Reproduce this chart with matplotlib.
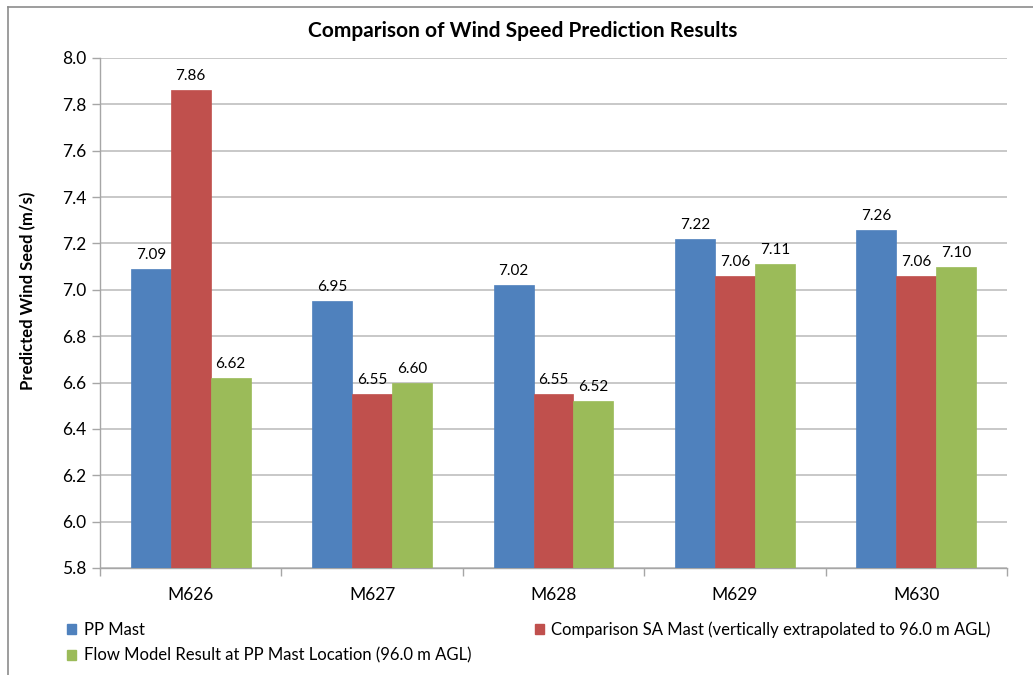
import matplotlib
matplotlib.use("Agg")
import matplotlib.pyplot as plt
import numpy as np
from matplotlib.patches import Patch
from matplotlib.lines import Line2D

plt.rcParams['font.family'] = ['Lato', 'DejaVu Sans']

categories = ["M626", "M627", "M628", "M629", "M630"]
pp_mast = [7.09, 6.95, 7.02, 7.22, 7.26]
sa_mast = [7.86, 6.55, 6.55, 7.06, 7.06]
flow_model = [6.62, 6.60, 6.52, 7.11, 7.10]
series_names = ["PP Mast",
                "Comparison SA Mast (vertically extrapolated to 96.0 m AGL)",
                "Flow Model Result at PP Mast Location (96.0 m AGL)"]
colors = ["#4F81BD", "#C0504D", "#9BBB59"]
yticks = [5.8, 6.0, 6.2, 6.4, 6.6, 6.8, 7.0, 7.2, 7.4, 7.6, 7.8, 8.0]

W, H = 1033, 675
fig = plt.figure(figsize=(W/100, H/100), dpi=100)
ax = fig.add_axes([100/W, 1-568/H, (1007-100)/W, (568-58)/H])

x = np.arange(len(categories))
bw = 0.22
base = 5.8
for i, (vals, c) in enumerate(zip([pp_mast, sa_mast, flow_model], colors)):
    pos = x + (i-1)*bw
    ax.bar(pos, np.array(vals)-base, bottom=base, width=bw, color=c,
           edgecolor=c, linewidth=0.5, zorder=3, label=series_names[i])
    for p, v in zip(pos, vals):
        ax.text(p, v+0.03, f"{v:.2f}", ha='center', va='bottom', fontsize=11, color='black')

ax.set_xlim(-0.5, len(categories)-0.5)
ax.set_ylim(5.8, 8.0)
ax.set_yticks(yticks)
ax.set_yticklabels([f"{t:.1f}" for t in yticks], fontsize=12.5)
ax.yaxis.grid(True, color='#BFBFBF', linewidth=1.2, zorder=0)
ax.set_axisbelow(True)
ax.set_xticks(x)
ax.set_xticklabels(categories, fontsize=12.5)
ax.tick_params(axis='x', length=0, pad=14)
ax.set_xticks(np.arange(-0.5, len(categories)), minor=True)
ax.tick_params(axis='x', which='minor', length=6, color='#A6A6A6', width=1)
ax.tick_params(axis='y', length=6, color='#A6A6A6', width=1, pad=4)
for s in ['top', 'right']:
    ax.spines[s].set_visible(False)
for s in ['left', 'bottom']:
    ax.spines[s].set_color('#A6A6A6')
    ax.spines[s].set_linewidth(1)

fig.text(28/W, 1-291/H, "Predicted Wind Seed (m/s)", rotation=90, ha='center', va='center',
         fontsize=12, fontweight='bold')
fig.text(523/W, 1-31/H, "Comparison of Wind Speed Prediction Results", ha='center', va='center',
         fontsize=15, fontweight='bold')

# chart border (top & left)
fig.add_artist(Line2D([8/W, 8/W], [0, 1-7/H], color='#8C8C8C', linewidth=1.2, transform=fig.transFigure))
fig.add_artist(Line2D([8/W, 1], [1-7/H, 1-7/H], color='#8C8C8C', linewidth=1.2, transform=fig.transFigure))

handles = [Patch(color=colors[0]), Patch(color=colors[2]), Patch(color=colors[1])]
labels = [series_names[0], series_names[2], series_names[1]]
fig.legend(handles, labels, ncol=2, loc='upper left', bbox_to_anchor=(67/W, 1-621/H),
           frameon=False, fontsize=12, handlelength=0.55, handleheight=0.55,
           handletextpad=0.45, columnspacing=3.8, labelspacing=0.6, borderaxespad=0, borderpad=0)

fig.savefig("out.png", dpi=100)
